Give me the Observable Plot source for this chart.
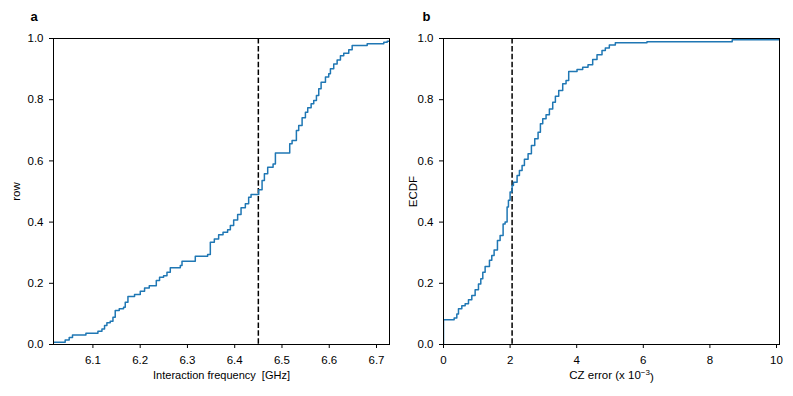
<!DOCTYPE html>
<html><head><meta charset="utf-8">
<script src="https://cdn.jsdelivr.net/npm/d3@7"></script>
<script src="https://cdn.jsdelivr.net/npm/@observablehq/plot@0.6"></script>
<style>
html,body{margin:0;padding:0;background:#fff;}
#wrap{display:flex;width:793px;height:396px;}
</style></head><body><div id="wrap"></div>
<script>
// Panel a: ECDF step points of interaction frequency (GHz)
const freqX = [6.0166,6.0413,6.0498,6.0568,6.0852,6.1106,6.1191,6.1246,6.1296,6.1366,6.1424,6.1472,6.1557,6.1648,6.1684,6.1741,6.1881,6.2002,6.2093,6.2192,6.2341,6.2410,6.2495,6.2567,6.2637,6.2849,6.2885,6.3166,6.3427,6.3484,6.3569,6.3660,6.3753,6.3850,6.3908,6.3978,6.4062,6.4134,6.4225,6.4295,6.4346,6.4507,6.4579,6.4628,6.4698,6.4812,6.4861,6.5164,6.5214,6.5305,6.5354,6.5426,6.5496,6.5545,6.5617,6.5672,6.5729,6.5778,6.5828,6.5920,6.5989,6.6025,6.6095,6.6167,6.6237,6.6307,6.6413,6.6485,6.6803,6.7154,6.7226,6.7275];
const freqY = [0.0075,0.015,0.023,0.031,0.037,0.043,0.051,0.062,0.071,0.076,0.089,0.111,0.117,0.122,0.138,0.157,0.163,0.174,0.185,0.192,0.209,0.220,0.225,0.236,0.251,0.258,0.272,0.288,0.294,0.334,0.345,0.359,0.367,0.375,0.389,0.407,0.425,0.447,0.460,0.481,0.490,0.506,0.536,0.558,0.579,0.590,0.626,0.656,0.667,0.699,0.716,0.741,0.759,0.774,0.787,0.797,0.814,0.836,0.857,0.874,0.885,0.901,0.917,0.930,0.944,0.952,0.963,0.977,0.983,0.988,0.991,0.991];
const freqMedian = 6.45;
const freqDomain = [6.0166, 6.7275];
const freqTicks = [6.1, 6.2, 6.3, 6.4, 6.5, 6.6, 6.7];

// Panel b: ECDF step points of CZ error (x 10^-3)
const errX = [0,0,0.32,0.40,0.45,0.55,0.65,0.75,0.85,0.95,1.05,1.12,1.18,1.25,1.38,1.45,1.52,1.62,1.70,1.79,1.85,1.91,1.95,2.00,2.06,2.10,2.21,2.28,2.36,2.43,2.54,2.64,2.74,2.84,2.91,2.98,3.08,3.18,3.28,3.36,3.46,3.58,3.68,3.76,4.01,4.18,4.34,4.48,4.61,4.76,4.86,4.98,5.16,6.11,8.67,10.09];
const errY = [0,0.081,0.087,0.100,0.117,0.127,0.133,0.146,0.160,0.179,0.198,0.215,0.236,0.255,0.275,0.291,0.309,0.340,0.356,0.394,0.400,0.449,0.471,0.498,0.520,0.530,0.552,0.569,0.585,0.605,0.623,0.650,0.672,0.694,0.721,0.738,0.751,0.770,0.792,0.811,0.830,0.852,0.863,0.892,0.899,0.906,0.914,0.931,0.947,0.961,0.969,0.979,0.986,0.989,0.996,0.996];
const errMedian = 2.06;
const errDomain = [0, 10.09];
const errTicks = [0, 2, 4, 6, 8, 10];

const yTicks = [0, 0.2, 0.4, 0.6, 0.8, 1.0];

const FONT = '"Liberation Sans", Arial, Helvetica, sans-serif';

function panel(o) {
  const data = o.xs.map((x, i) => ({x, y: o.ys[i]}));
  return Plot.plot({
    width: o.width, height: 396,
    marginLeft: o.ml, marginRight: o.mr, marginTop: 38, marginBottom: 52,
    style: {fontFamily: FONT, fontSize: "11.5px", color: "black", background: "white", overflow: "visible"},
    x: {domain: o.xDomain},
    y: {domain: [0, 1]},
    marks: [
      Plot.axisX({ticks: o.xTicks, tickFormat: o.xFormat, tickSize: 4, tickPadding: 7,
        label: o.xLabel, labelAnchor: "center", labelArrow: "none", labelOffset: 34.5}),
      Plot.axisY({ticks: yTicks, tickFormat: d3.format(".1f"), tickSize: 4, tickPadding: 6,
        label: o.yLabel, labelAnchor: "center", labelArrow: "none", labelOffset: o.yLabelOffset}),
      Plot.ruleX([o.median], {stroke: "black", strokeWidth: 1.5, strokeDasharray: "5.5,2.4"}),
      Plot.line(data, {x: "x", y: "y", curve: "step-after", stroke: "#1f77b4", strokeWidth: 1.5, clip: true}),
      Plot.frame({stroke: "black", strokeWidth: 1}),
      Plot.text([o.letter], {frameAnchor: "top-left", textAnchor: "start", lineAnchor: "middle",
        dx: o.letterX - o.ml, dy: -22, fontWeight: "bold", fontSize: 13})
    ]
  });
}

const wrap = document.getElementById("wrap");
const chartA = panel({
  xs: freqX, ys: freqY, median: freqMedian, xDomain: freqDomain, xTicks: freqTicks,
  xFormat: d3.format(".1f"), xLabel: "Interaction frequency\u00a0 [GHz]", yLabel: "row",
  letter: "a", letterX: 30, width: 396, ml: 53, mr: 7, yLabelOffset: 42
});
const chartB = panel({
  xs: errX, ys: errY, median: errMedian, xDomain: errDomain, xTicks: errTicks,
  xFormat: d3.format("d"), xLabel: "CZ error (x 10\u22123)", yLabel: "ECDF",
  letter: "b", letterX: 26, width: 397, ml: 47, mr: 14, yLabelOffset: 35
});
wrap.append(chartA, chartB);

// typographic touch-ups of the axis labels
d3.select(chartA).selectAll("text").each(function() {
  if (this.textContent.startsWith("Interaction")) this.setAttribute("font-size", "11px");
});
d3.select(chartB).selectAll("text").each(function() {
  if (this.textContent.startsWith("CZ error")) {
    const t = d3.select(this);
    t.text("CZ error (x 10");
    t.append("tspan").attr("font-size", "8px").attr("dy", "-0.45em").text("\u22123");
    t.append("tspan").attr("dy", "0.45em").text(")");
  }
});
</script></body></html>
